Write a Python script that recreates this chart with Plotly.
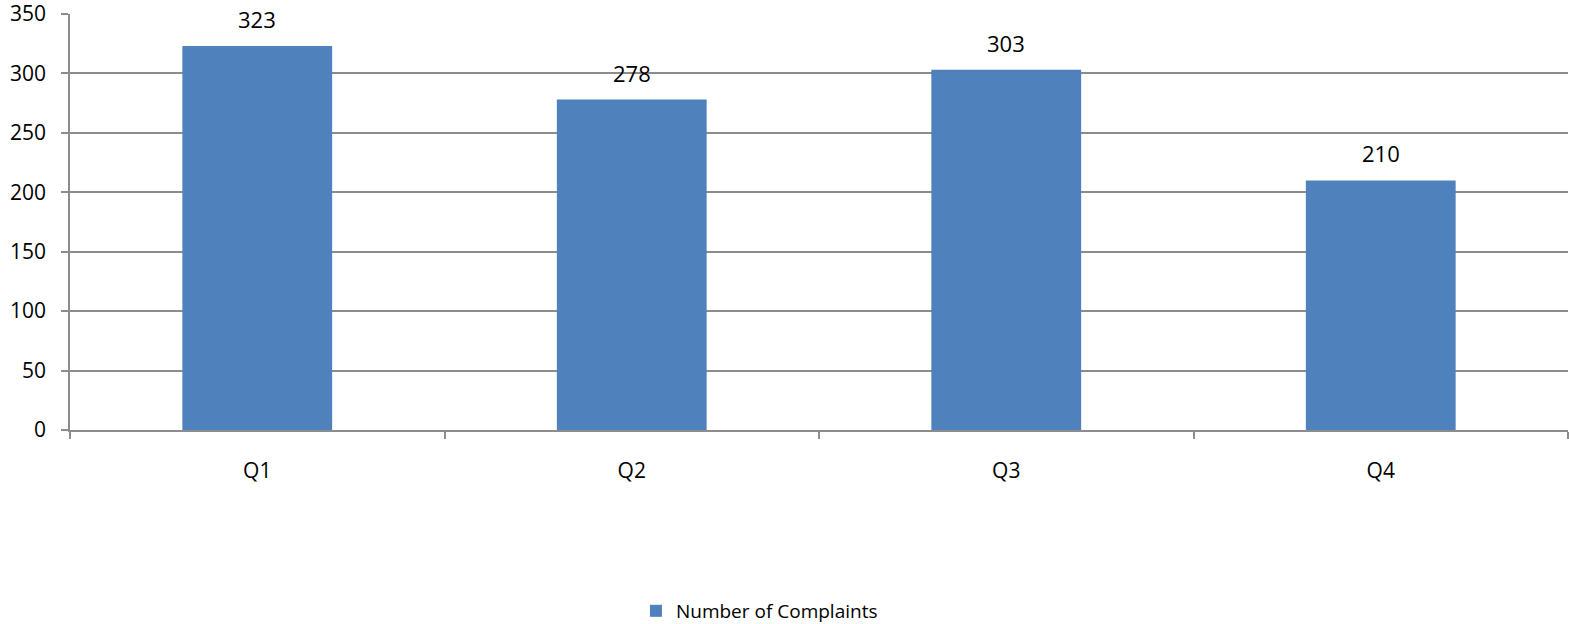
import plotly.graph_objects as go

categories = ["Q1", "Q2", "Q3", "Q4"]
complaints = [323, 278, 303, 210]
series_name = "Number of Complaints"
y_ticks = [0, 50, 100, 150, 200, 250, 300, 350]

FONT = "'Open Sans', sans-serif"
GRID = "#8c8c8c"

fig = go.Figure()
fig.add_trace(go.Bar(
    x=categories, y=complaints, name=series_name,
    marker=dict(color="#4F81BD", line=dict(width=0)),
    width=0.4, showlegend=True,
))

for c, v in zip(categories, complaints):
    fig.add_annotation(x=c, y=v, text=str(v), showarrow=False,
                       yanchor="middle", yshift=27,
                       font=dict(family=FONT, size=22, color="#000000"))

fig.update_layout(
    width=1569, height=624,
    margin=dict(l=70, r=1, t=14, b=194, autoexpand=False),
    paper_bgcolor="white", plot_bgcolor="white",
    font=dict(family=FONT, size=21, color="#000000"),
    bargap=0.6,
    legend=dict(orientation="h", x=0.3778, xanchor="left", y=-0.435, yanchor="middle",
                font=dict(family=FONT, size=19), itemwidth=30),
)
fig.update_xaxes(
    automargin=False,
    showline=True, linecolor=GRID, linewidth=1.5,
    ticks="outside", tickson="boundaries", ticklen=7, tickcolor=GRID, tickwidth=1.5,
    showgrid=False, ticklabelstandoff=21,
)
fig.update_yaxes(
    automargin=False,
    range=[0, 350], tickvals=y_ticks,
    showline=True, linecolor=GRID, linewidth=1.5,
    ticks="outside", ticklen=7, tickcolor=GRID, tickwidth=1.5,
    showgrid=True, gridcolor=GRID, gridwidth=1.5,
    zeroline=False, ticklabelstandoff=11, ticklabeloverflow="allow",
)

fig.write_html(
    "out.html",
    config={"displayModeBar": False},
    post_script="document.body.style.margin='0';document.body.style.overflow='hidden';",
)
